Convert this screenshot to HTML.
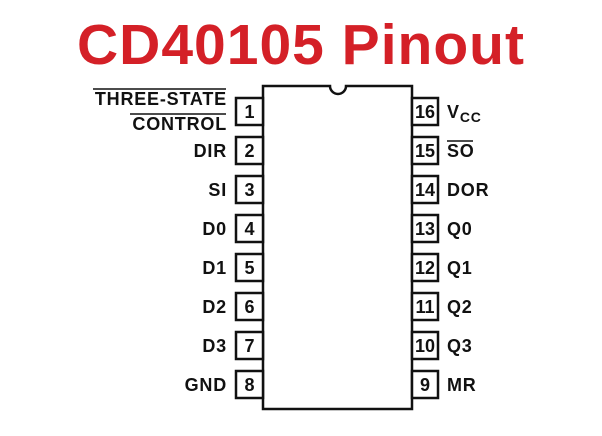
<!DOCTYPE html>
<html><head><meta charset="utf-8"><style>
body{margin:0;background:#fff;}
svg{display:block}
</style></head><body>
<svg width="602" height="436" viewBox="0 0 602 436" xmlns="http://www.w3.org/2000/svg">
<text x="301" y="64" text-anchor="middle" font-family="Liberation Sans, sans-serif" font-weight="bold" font-size="57" fill="#d42027" letter-spacing="1">CD40105 Pinout</text>
<path d="M263 86 H330 A8 8 0 0 0 346 86 H412 V409 H263 Z" fill="none" stroke="#111" stroke-width="2.5"/>
<g fill="#fff" stroke="#111" stroke-width="2.5">
<rect x="236" y="98" width="27" height="27"/><rect x="236" y="137" width="27" height="27"/>
<rect x="236" y="176" width="27" height="27"/><rect x="236" y="215" width="27" height="27"/>
<rect x="236" y="254" width="27" height="27"/><rect x="236" y="293" width="27" height="27"/>
<rect x="236" y="332" width="27" height="27"/><rect x="236" y="371" width="27" height="27"/>
<rect x="412" y="98" width="26" height="27"/><rect x="412" y="137" width="26" height="27"/>
<rect x="412" y="176" width="26" height="27"/><rect x="412" y="215" width="26" height="27"/>
<rect x="412" y="254" width="26" height="27"/><rect x="412" y="293" width="26" height="27"/>
<rect x="412" y="332" width="26" height="27"/><rect x="412" y="371" width="26" height="27"/>
</g>
<g font-family="Liberation Sans, sans-serif" font-weight="bold" font-size="17" fill="#111">
<g text-anchor="middle" font-size="18">
<text x="249.5" y="118">1</text><text x="249.5" y="157">2</text><text x="249.5" y="196">3</text><text x="249.5" y="235">4</text>
<text x="249.5" y="274">5</text><text x="249.5" y="313">6</text><text x="249.5" y="352">7</text><text x="249.5" y="391">8</text>
<text x="425" y="118">16</text><text x="425" y="157">15</text><text x="425" y="196">14</text><text x="425" y="235">13</text>
<text x="425" y="274">12</text><text x="425" y="313">11</text><text x="425" y="352">10</text><text x="425" y="391">9</text>
</g>
<g text-anchor="end" font-size="18" letter-spacing="0.8">
<text x="227" y="105">THREE-STATE</text><text x="227" y="130">CONTROL</text>
<text x="227" y="157">DIR</text><text x="227" y="196">SI</text><text x="227" y="235">D0</text>
<text x="227" y="274">D1</text><text x="227" y="313">D2</text><text x="227" y="352">D3</text><text x="227" y="391">GND</text>
</g>
<g font-size="18" letter-spacing="0.8">
<text x="447" y="118">V<tspan font-size="14" dy="4">CC</tspan></text>
<text x="447" y="157">SO</text><text x="447" y="196">DOR</text><text x="447" y="235">Q0</text>
<text x="447" y="274">Q1</text><text x="447" y="313">Q2</text><text x="447" y="352">Q3</text><text x="447" y="391">MR</text>
</g>
</g>
<g stroke="#111" stroke-width="1.5">
<line x1="93" y1="89" x2="226" y2="89"/><line x1="130" y1="114" x2="226" y2="114"/>
<line x1="447" y1="141" x2="473" y2="141"/>
</g>
</svg>
</body></html>
